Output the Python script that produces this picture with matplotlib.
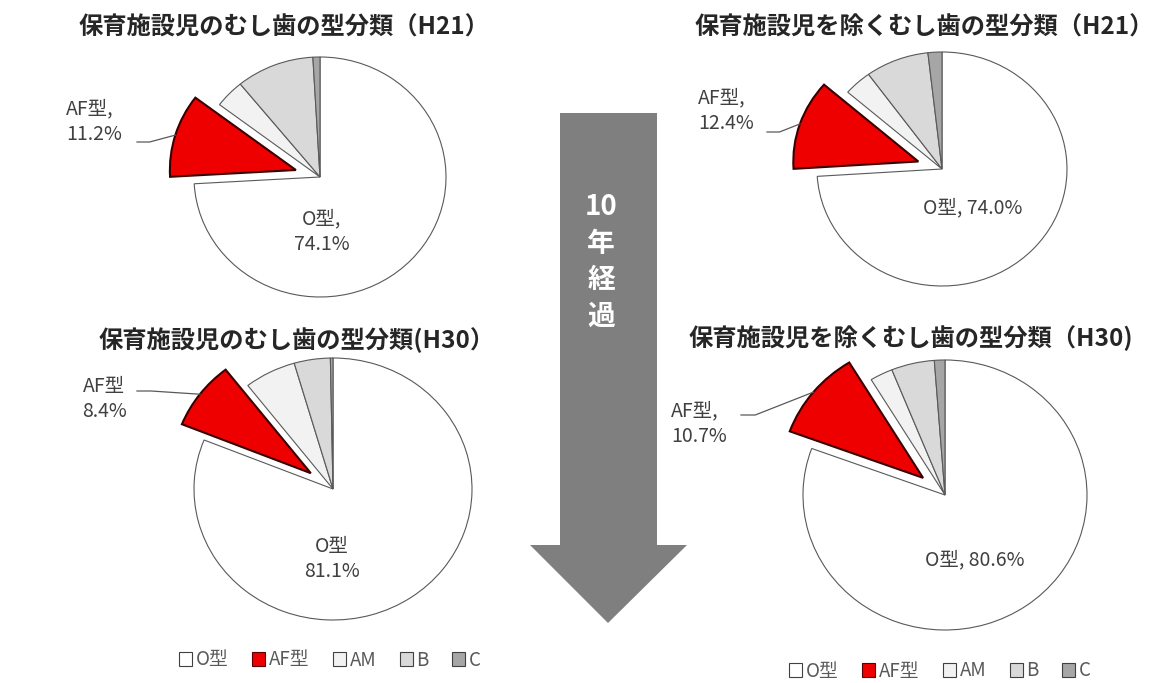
import numpy as np
import matplotlib
matplotlib.use("Agg")
import matplotlib.pyplot as plt
from matplotlib.patches import Patch, Polygon

plt.rcParams['font.family'] = ['Noto Sans CJK JP', 'DejaVu Sans']

# ---- data -------------------------------------------------------------
categories = ['O型', 'AF型', 'AM', 'B', 'C']
titles = ['保育施設児のむし歯の型分類（H21）',
          '保育施設児を除くむし歯の型分類（H21）',
          '保育施設児のむし歯の型分類(H30）',
          '保育施設児を除くむし歯の型分類（H30)']
h21_nursery = [74.1, 11.2, 3.8, 10.0, 0.9]
h21_other = [74.0, 12.4, 3.6, 8.2, 1.8]
h30_nursery = [81.1, 8.4, 6.0, 4.2, 0.3]
h30_other = [80.6, 10.7, 2.6, 4.9, 1.2]
arrow_text = '10\n年\n経\n過'

colors = ['#FFFFFF', '#EE0000', '#F2F2F2', '#D9D9D9', '#A6A6A6']
EXPLODE = 0.2

W, H = 1154, 683
fig = plt.figure(figsize=(W / 100, H / 100), dpi=100)
fig.patch.set_facecolor('white')


def px(x, y):
    """pixel position -> figure fraction"""
    return x / W, 1 - y / H


# ---- arrow between the columns -----------------------------------------
arrow_px = [(560, 113), (657, 113), (657, 545), (687, 545),
            (608, 623), (530, 545), (560, 545)]
fig.patches.append(Polygon([px(*p) for p in arrow_px], closed=True,
                           transform=fig.transFigure, facecolor='#7F7F7F',
                           edgecolor='none', zorder=0))
tx, ty = px(601, 262)
fig.text(tx, ty, arrow_text, color='white', fontsize=20, fontweight='bold',
         ha='center', va='center', linespacing=1.38)

# ---- pies ---------------------------------------------------------------
L = 1.7
specs = [
    dict(vals=h21_nursery, c=(320, 177), r=(126, 120), title=(284, 28),
         af=(66, 122, 'left'), af_end=(137, 142),
         o=(322, 232), af_fmt='AF型,\n{:.1f}%', o_fmt='O型,\n{:.1f}%'),
    dict(vals=h21_other, c=(942, 169), r=(125, 117), title=(924, 28),
         af=(698, 111, 'left'), af_end=(767, 132),
         o=(973, 208), af_fmt='AF型,\n{:.1f}%', o_fmt='O型, {:.1f}%'),
    dict(vals=h30_nursery, c=(333, 489), r=(139, 131), title=(297, 340),
         af=(104, 399, 'center'), af_end=(137, 391),
         o=(332, 559), af_fmt='AF型\n{:.1f}%', o_fmt='O型\n{:.1f}%'),
    dict(vals=h30_other, c=(945, 495), r=(142, 135), title=(911, 338),
         af=(671, 424, 'left'), af_end=(741, 415),
         o=(975, 560), af_fmt='AF型,\n{:.1f}%', o_fmt='O型, {:.1f}%'),
]

for spec, title in zip(specs, titles):
    cx, cy = spec['c']
    rx, ry = spec['r']
    x0, y1 = px(cx - L * rx, cy - L * ry)
    x1, y0 = px(cx + L * rx, cy + L * ry)
    ax = fig.add_axes([x0, y0, x1 - x0, y1 - y0])
    vals = spec['vals']
    wedges, _ = ax.pie(vals, startangle=90, counterclock=False,
                       colors=colors, explode=[0, EXPLODE, 0, 0, 0],
                       wedgeprops=dict(edgecolor='#595959', linewidth=0.8))
    wedges[1].set_edgecolor('#3A0000')
    wedges[1].set_linewidth(1.5)
    wedges[1].set_zorder(3)
    ax.set_aspect('auto')
    ax.set_xlim(-L, L)
    ax.set_ylim(-L, L)
    ax.axis('off')

    def d(p):
        return ((p[0] - cx) / rx, (cy - p[1]) / ry)

    # title
    tpx = px(*spec['title'])
    fig.text(tpx[0], tpx[1], title, fontsize=17.5, fontweight='bold',
             color='#262626', ha='center', va='center')

    # AF label + leader line
    ax_, ay_ = d(spec['af'][:2])
    ax.text(ax_, ay_, spec['af_fmt'].format(vals[1]), fontsize=14,
            color='#404040', ha=spec['af'][2], va='center', linespacing=1.3)
    a_start = 90 - 360 * vals[0] / 100
    a_mid = np.deg2rad(a_start - 180 * vals[1] / 100)
    ex, ey = EXPLODE * np.cos(a_mid), EXPLODE * np.sin(a_mid)
    tip = (ex + 1.0 * np.cos(a_mid), ey + 1.0 * np.sin(a_mid))
    s = d(spec['af_end'])
    knee = (s[0] + 0.1, s[1])
    ax.plot([s[0], knee[0], tip[0]], [s[1], knee[1], tip[1]],
            color='#595959', linewidth=0.9, zorder=4)

    # O label
    ox, oy = d(spec['o'])
    ax.text(ox, oy, spec['o_fmt'].format(vals[0]), fontsize=14,
            color='#404040', ha='center', va='center', linespacing=1.3)

# ---- legends ------------------------------------------------------------
handles = [Patch(facecolor=c, edgecolor='#404040' if i != 1 else '#5A0000',
                 linewidth=0.8) for i, c in enumerate(colors)]
for lx, ly in [(330, 660), (940, 671)]:
    lp = px(lx, ly)
    fig.legend(handles, categories, loc='center', bbox_to_anchor=lp,
               ncol=5, frameon=False, fontsize=13.5, handlelength=0.7,
               handleheight=0.7, handletextpad=0.2, columnspacing=1.25,
               labelcolor='#595959')

fig.savefig('out.png', dpi=100, facecolor='white')
